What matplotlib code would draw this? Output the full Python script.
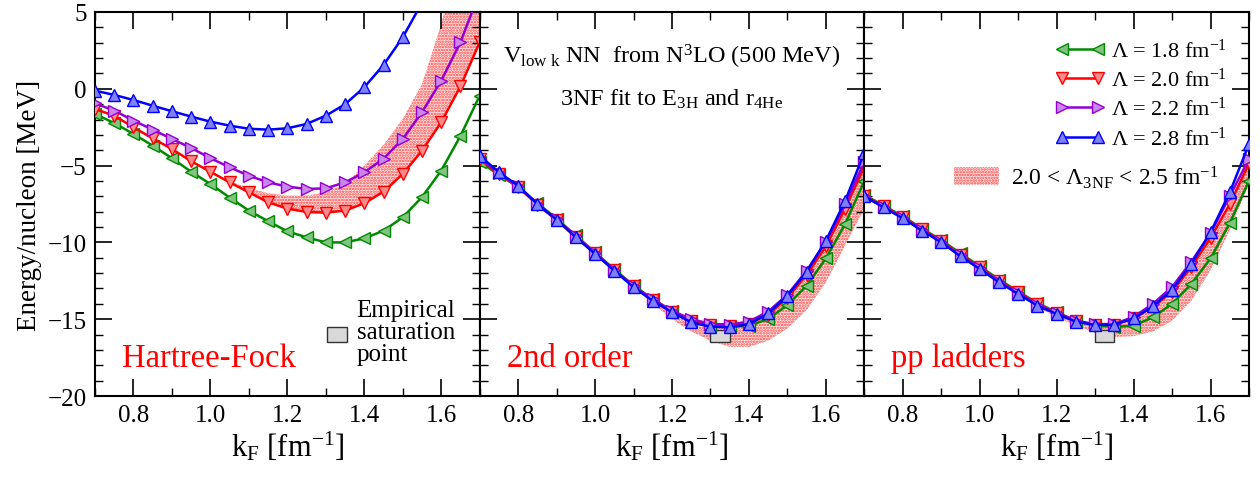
import matplotlib
matplotlib.use("Agg")
import matplotlib.pyplot as plt
from matplotlib.lines import Line2D
from matplotlib.patches import Patch, Rectangle

plt.rcParams.update(
    {
        "font.family": ["Liberation Serif", "DejaVu Serif"],
        "mathtext.fontset": "custom",
        "mathtext.rm": "Liberation Serif",
        "mathtext.it": "Liberation Serif:italic",
        "mathtext.bf": "Liberation Serif:bold",
        "axes.linewidth": 1.5,
        "xtick.direction": "in",
        "ytick.direction": "in",
        "xtick.top": True,
        "ytick.right": True,
        "xtick.major.size": 12,
        "ytick.major.size": 12,
        "xtick.minor.size": 6,
        "ytick.minor.size": 6,
        "xtick.major.width": 1.2,
        "ytick.major.width": 1.2,
        "xtick.minor.width": 1.0,
        "ytick.minor.width": 1.0,
        "hatch.linewidth": 1.2,
    }
)

# ---- data --------------------------------------------------------------
KF = [0.70, 0.75, 0.80, 0.85, 0.90, 0.95, 1.00, 1.05, 1.10, 1.15, 1.20,
      1.25, 1.30, 1.35, 1.40, 1.45, 1.50, 1.55, 1.60, 1.65, 1.70]

LAMBDAS = ["1.8", "2.0", "2.2", "2.8"]

# Hartree-Fock
HF_18 = [-1.64, -2.23, -2.94, -3.70, -4.52, -5.40, -6.20, -7.08, -7.93, -8.62, -9.28,
         -9.67, -10.0, -10.0, -9.74, -9.24, -8.37, -7.05, -5.33, -3.07, -0.45]
HF_20 = [-1.32, -1.75, -2.51, -3.23, -3.92, -4.72, -5.40, -6.09, -6.74, -7.39, -7.80,
         -8.02, -8.06, -7.93, -7.45, -6.70, -5.55, -4.03, -2.18, 0.16, 3.03]
HF_22 = [-0.95, -1.42, -2.07, -2.66, -3.27, -3.85, -4.52, -5.11, -5.66, -6.09, -6.37,
         -6.52, -6.48, -6.09, -5.44, -4.55, -3.27, -1.53, 0.53, 3.03, 6.30]
HF_28 = [-0.12, -0.40, -0.73, -1.10, -1.46, -1.81, -2.14, -2.40, -2.60, -2.66, -2.57,
         -2.29, -1.75, -1.01, 0.10, 1.55, 3.35, 5.60, 8.20, 11.2, 14.6]
HF_BAND_KF = [1.00, 1.05, 1.10, 1.15, 1.20, 1.25, 1.30, 1.35, 1.40, 1.45, 1.50,
              1.55, 1.60, 1.65, 1.70]
HF_BAND_LO = [-5.40, -6.09, -6.74, -7.39, -7.80, -8.02, -8.06, -7.93, -7.45, -6.70,
              -5.55, -4.03, -2.18, 0.16, 3.03]
HF_BAND_HI = [-5.40, -6.02, -6.45, -6.80, -6.95, -6.95, -6.75, -6.20, -5.00, -3.65,
              -1.95, 0.30, 4.20, 9.50, 15.0]

# 2nd order
SO_18 = [-4.75, -5.60, -6.40, -7.45, -8.45, -9.55, -10.65, -11.75, -12.80, -13.70, -14.45,
         -15.10, -15.45, -15.50, -15.42, -14.99, -14.08, -12.82, -11.04, -8.80, -6.00]
SO_20 = [-4.60, -5.55, -6.40, -7.55, -8.55, -9.65, -10.70, -11.80, -12.85, -13.75, -14.50,
         -15.10, -15.40, -15.45, -15.30, -14.70, -13.60, -12.10, -10.25, -7.80, -5.05]
SO_22 = [-4.50, -5.50, -6.35, -7.50, -8.50, -9.60, -10.70, -11.80, -12.85, -13.70, -14.45,
         -15.00, -15.30, -15.35, -15.15, -14.50, -13.40, -11.85, -9.95, -7.50, -4.75]
SO_28 = [-4.35, -5.44, -6.31, -7.50, -8.52, -9.67, -10.75, -11.84, -12.92, -13.80, -14.55,
         -15.20, -15.49, -15.53, -15.31, -14.62, -13.47, -11.90, -9.89, -7.30, -4.15]
SO_BAND_KF = [1.10, 1.15, 1.20, 1.25, 1.30, 1.35, 1.40, 1.45, 1.50, 1.55, 1.60, 1.65, 1.70]
SO_BAND_HI = [-12.85, -13.75, -14.50, -15.10, -15.40, -15.45, -15.30, -14.70, -13.60,
              -12.10, -10.25, -7.80, -5.05]
SO_BAND_LO = [-12.90, -14.00, -15.00, -15.80, -16.40, -16.80, -16.80, -16.40, -15.60,
              -14.40, -12.60, -10.20, -7.80]

# pp ladders
PP_18 = [-6.90, -7.60, -8.30, -9.10, -9.85, -10.72, -11.55, -12.42, -13.20, -13.95, -14.55,
         -15.10, -15.40, -15.50, -15.42, -14.88, -14.00, -12.70, -11.04, -8.74, -5.98]
PP_20 = [-6.95, -7.65, -8.35, -9.15, -9.92, -10.80, -11.62, -12.50, -13.25, -14.00, -14.58,
         -15.10, -15.35, -15.35, -14.95, -14.20, -13.20, -11.60, -9.70, -7.50, -4.85]
PP_22 = [-7.00, -7.70, -8.40, -9.20, -9.97, -10.85, -11.68, -12.55, -13.30, -14.05, -14.60,
         -15.10, -15.33, -15.30, -14.85, -14.00, -12.90, -11.25, -9.40, -7.00, -4.55]
PP_28 = [-7.00, -7.72, -8.43, -9.24, -10.00, -10.91, -11.73, -12.60, -13.36, -14.12, -14.66,
         -15.16, -15.38, -15.36, -14.94, -14.16, -13.08, -11.40, -9.34, -6.74, -3.59]
PP_BAND_KF = [1.15, 1.20, 1.25, 1.30, 1.35, 1.40, 1.45, 1.50, 1.55, 1.60, 1.65, 1.70]
PP_BAND_HI = [-14.00, -14.58, -15.10, -15.35, -15.35, -14.95, -14.20, -13.20, -11.60,
              -9.70, -7.50, -4.85]
PP_BAND_LO = [-14.20, -14.90, -15.40, -15.90, -16.15, -16.10, -15.80, -15.10, -13.80,
              -11.80, -9.20, -6.20]

# empirical saturation point
SAT_KF = (1.30, 1.35)
SAT_E = (-16.5, -15.7)

PANELS = [
    ("Hartree-Fock", [HF_18, HF_20, HF_22, HF_28], HF_BAND_KF, HF_BAND_LO, HF_BAND_HI),
    ("2nd order", [SO_18, SO_20, SO_22, SO_28], SO_BAND_KF, SO_BAND_LO, SO_BAND_HI),
    ("pp ladders", [PP_18, PP_20, PP_22, PP_28], PP_BAND_KF, PP_BAND_LO, PP_BAND_HI),
]

# ---- styles -------------------------------------------------------------
COLORS = ["#008a00", "#ff0000", "#9400d3", "#0000ff"]
FACES = ["#80c480", "#ff8a8a", "#c987e9", "#8080ff"]
MARKERS = ["<", "v", ">", "^"]
BAND_EDGE = "#ff4040"
BAND_FACE = "#ffe8e8"
MS = 8.0
LW = 1.8

fig, axes = plt.subplots(1, 3, figsize=(12.6, 4.81), dpi=100, sharey=True)
fig.subplots_adjust(left=0.0754, right=0.9913, top=0.973, bottom=0.1746, wspace=0)

for ax, (name, series, bkf, blo, bhi) in zip(axes, PANELS):
    ax.fill_between(bkf, blo, bhi, facecolor=BAND_FACE, edgecolor=BAND_EDGE,
                    hatch="......", linewidth=0, zorder=1)
    if name != "Hartree-Fock":
        ax.add_patch(Rectangle((SAT_KF[0], SAT_E[0]), SAT_KF[1] - SAT_KF[0],
                               SAT_E[1] - SAT_E[0], facecolor="#d9d9d9",
                               edgecolor="#333333", linewidth=1.0, zorder=2))
    for ys, col, face, mk in zip(series, COLORS, FACES, MARKERS):
        ax.plot(KF, ys, color=col, linewidth=LW, marker=mk, markersize=MS,
                markerfacecolor=face, markeredgecolor=col, markeredgewidth=1.0,
                zorder=3)
    ax.set_xlim(0.7, 1.7)
    ax.set_ylim(-20, 5)
    ax.set_xticks([0.8, 1.0, 1.2, 1.4, 1.6])
    ax.set_xticks([0.7, 0.9, 1.1, 1.3, 1.5, 1.7], minor=True)
    ax.set_yticks([-20, -15, -10, -5, 0, 5])
    ax.set_yticks(range(-20, 6), minor=True)
    ax.tick_params(which="both", labelsize=18, pad=6)
    ax.set_xlabel(r"k$_\mathrm{F}$ [fm$^{-1}$]", fontsize=22, labelpad=2)
    ax.text(0.07, 0.10, name, transform=ax.transAxes, color="red",
            fontsize=23.5, ha="left", va="center")

axes[0].set_ylabel("Energy/nucleon [MeV]", fontsize=19.5, labelpad=4)
for ax in axes[1:]:
    ax.tick_params(labelleft=False)

# empirical saturation legend (panel 1)
axes[0].add_patch(Rectangle((0.602, 0.141), 0.052, 0.039, transform=axes[0].transAxes,
                            facecolor="#d9d9d9", edgecolor="#333333", linewidth=1.0))
axes[0].text(0.68, 0.167, "Empirical\nsaturation\npoint", transform=axes[0].transAxes,
             fontsize=18, ha="left", va="center", linespacing=1.0)

# panel 2 annotations
axes[1].text(0.5, 0.885, r"V$_\mathrm{low\ k}$ NN  from N$^3$LO (500 MeV)",
             transform=axes[1].transAxes, fontsize=17.5, ha="center", va="center")
axes[1].text(0.5, 0.775, r"3NF fit to E$_\mathrm{3H}$ and r$_\mathrm{4He}$",
             transform=axes[1].transAxes, fontsize=17.5, ha="center", va="center")

# legend (panel 3)
handles = [
    Line2D([], [], color=c, marker=m, markersize=MS, markerfacecolor=f,
           markeredgecolor=c, linewidth=LW, label=rf"$\Lambda$ = {lam} fm$^{{-1}}$")
    for c, f, m, lam in zip(COLORS, FACES, MARKERS, LAMBDAS)
]
leg = axes[2].legend(handles=handles, loc="upper right", bbox_to_anchor=(0.965, 0.955),
                     frameon=False, numpoints=2, handlelength=2.2, handletextpad=0.3,
                     labelspacing=0.28, fontsize=16, borderaxespad=0)
axes[2].add_artist(leg)
band_handle = Patch(facecolor=BAND_FACE, edgecolor=BAND_EDGE, hatch="......",
                    linewidth=0,
                    label=r"2.0 < $\Lambda_\mathrm{3NF}$ < 2.5 fm$^{-1}$")
axes[2].legend(handles=[band_handle], loc="upper right", bbox_to_anchor=(0.945, 0.63),
               frameon=False, handlelength=1.9, handleheight=0.8, handletextpad=0.5,
               fontsize=17, borderaxespad=0)

fig.savefig("out.png", dpi=100)
